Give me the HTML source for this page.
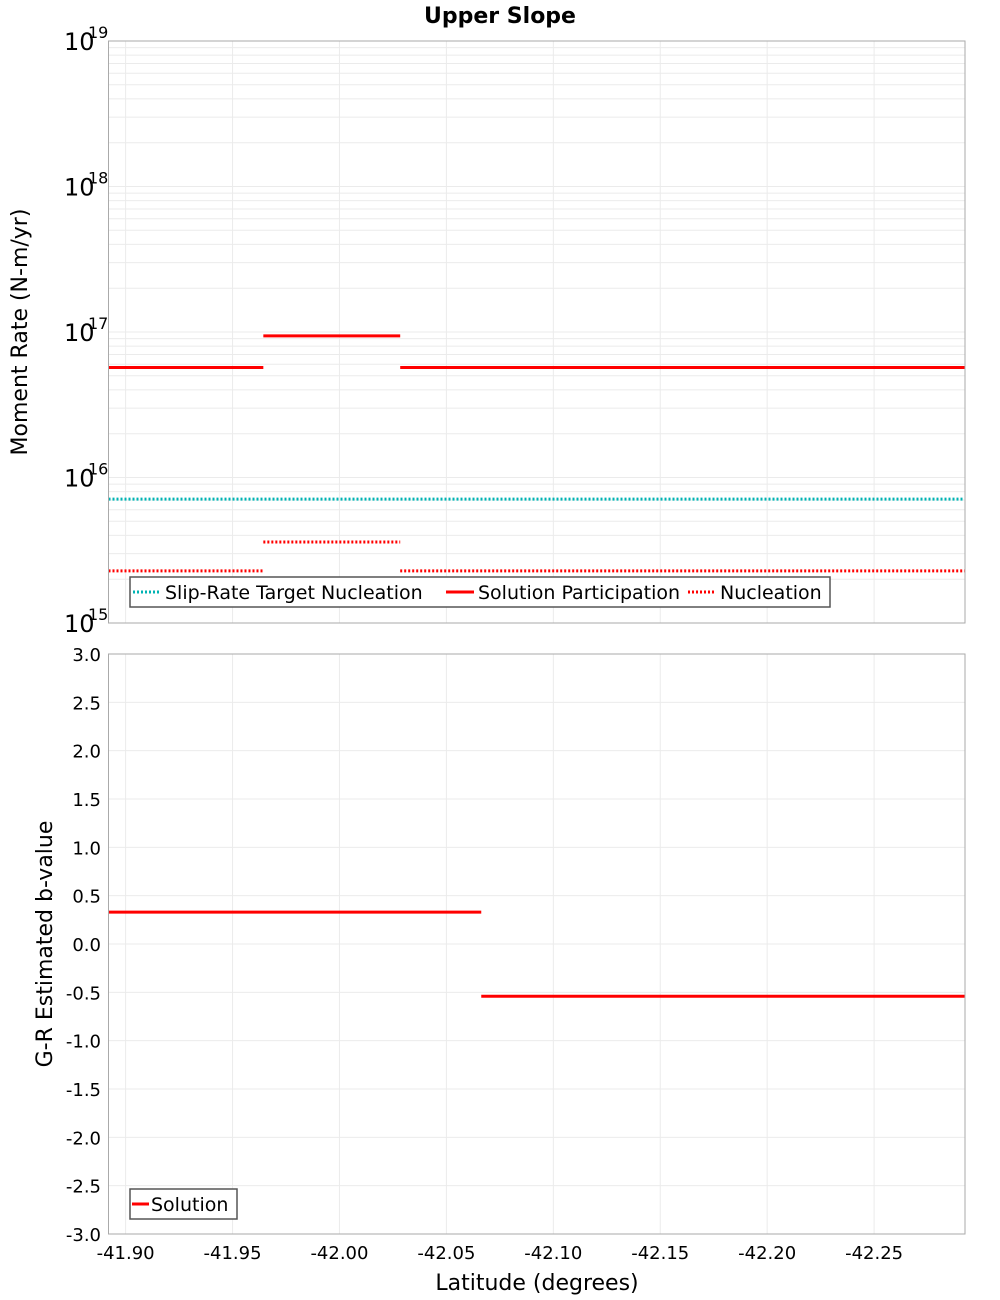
<!DOCTYPE html>
<html><head><meta charset="utf-8"><style>
html,body{margin:0;padding:0;background:#fff;width:1000px;height:1300px;overflow:hidden}
text{font-family:"DejaVu Sans","Liberation Sans",sans-serif}
</style></head><body>
<svg id="chart" width="1000" height="1300" xmlns="http://www.w3.org/2000/svg">
<text x="500" y="23" text-anchor="middle" font-size="22" font-weight="bold">Upper Slope</text>
<g id="topPlot"></g>
<g id="botPlot"></g>
<text x="537" y="1290" text-anchor="middle" font-size="22">Latitude (degrees)</text>
<text transform="translate(27,332) rotate(-90)" text-anchor="middle" font-size="22">Moment Rate (N-m/yr)</text>
<text transform="translate(52,944) rotate(-90)" text-anchor="middle" font-size="22">G-R Estimated b-value</text>
</svg>
<script>
const xTicks=[-41.90,-41.95,-42.00,-42.05,-42.10,-42.15,-42.20,-42.25];
const xLabels=["-41.90","-41.95","-42.00","-42.05","-42.10","-42.15","-42.20","-42.25"];
const partStarts=[-41.892,-41.9644,-42.0284];
const partEnds=[-41.9644,-42.0284,-42.2925];
const partValues=[5.7e16,9.4e16,5.7e16];
const nuclValues=[2.28e15,3.6e15,2.28e15];
const targetValue=7.1e15;
const bStarts=[-41.892,-42.0663];
const bEnds=[-42.0663,-42.2925];
const bValues=[0.33,-0.54];
const bTicks=[3.0,2.5,2.0,1.5,1.0,0.5,0.0,-0.5,-1.0,-1.5,-2.0,-2.5,-3.0];
const logDecades=[15,16,17,18,19];

const NS="http://www.w3.org/2000/svg";
const L=108.5,R=965,T1=41,B1=623,T2=654,B2=1234;
const X0=-41.892,X1=-42.2925;
const xs=v=>L+(v-X0)/(X1-X0)*(R-L);
const ly=v=>B1-(Math.log10(v)-15)/4*(B1-T1);
const by=v=>B2-(v+3)/6*(B2-T2);
function mk(p,tag,a,name){const e=document.createElementNS(NS,tag);for(const k in a)e.setAttribute(k,a[k]);


p.appendChild(e);return e;}
const topG=document.getElementById('topPlot'),botG=document.getElementById('botPlot');
for(const g of [[topG,T1,B1],[botG,T2,B2]]){
 mk(g[0],'rect',{x:L,y:g[1],width:R-L,height:g[2]-g[1],fill:'#fff',stroke:'none'},'plot-background');
 xTicks.forEach(t=>mk(g[0],'line',{x1:xs(t),x2:xs(t),y1:g[1],y2:g[2],stroke:'#ebebeb','stroke-width':1},'x-gridline'));
}
for(let d=15;d<19;d++)for(let m=1;m<10;m++){const y=ly(m*Math.pow(10,d));
 mk(topG,'line',{x1:L,x2:R,y1:y,y2:y,stroke:'#ebebeb','stroke-width':1},'y-gridline');}
bTicks.forEach(t=>mk(botG,'line',{x1:L,x2:R,y1:by(t),y2:by(t),stroke:'#ebebeb','stroke-width':1},'y-gridline'));
logDecades.forEach(d=>{const y=ly(Math.pow(10,d));
 const t=mk(topG,'text',{x:64,y:y+9,'font-size':24},'y-tick-label');t.textContent='10';
 const s=mk(topG,'text',{x:88,y:y-3,'font-size':16},'y-tick-exponent');s.textContent=String(d);});
bTicks.forEach(v=>{const t=mk(botG,'text',{x:101,y:by(v)+7,'font-size':18,'text-anchor':'end'},'y-tick-label');t.textContent=v.toFixed(1);});
xTicks.forEach((v,i)=>{const t=mk(botG,'text',{x:xs(v),y:1259,'font-size':18,'text-anchor':'middle'},'x-tick-label');t.textContent=xLabels[i];});
mk(topG,'line',{x1:xs(X0),x2:xs(X1),y1:ly(targetValue),y2:ly(targetValue),stroke:'#00b3b3','stroke-width':3,'stroke-dasharray':'2,2'},'target-nucleation-line');
partValues.forEach((v,i)=>mk(topG,'line',{x1:xs(partStarts[i]),x2:xs(partEnds[i]),y1:ly(v),y2:ly(v),stroke:'#ff0000','stroke-width':3},'participation-segment'));
nuclValues.forEach((v,i)=>mk(topG,'line',{x1:xs(partStarts[i]),x2:xs(partEnds[i]),y1:ly(v),y2:ly(v),stroke:'#ff0000','stroke-width':3,'stroke-dasharray':'2,2'},'nucleation-segment'));
bValues.forEach((v,i)=>mk(botG,'line',{x1:xs(bStarts[i]),x2:xs(bEnds[i]),y1:by(v),y2:by(v),stroke:'#ff0000','stroke-width':3},'b-value-segment'));
mk(topG,'rect',{x:L,y:T1,width:R-L,height:B1-T1,fill:'none',stroke:'#aaa','stroke-width':1},'plot-border');
mk(botG,'rect',{x:L,y:T2,width:R-L,height:B2-T2,fill:'none',stroke:'#aaa','stroke-width':1},'plot-border');
const lg=mk(topG,'g',{},'legend');
mk(lg,'rect',{x:130,y:577,width:700,height:30,fill:'#fff',stroke:'#555','stroke-width':1.5},'legend-box');
const items=[["Slip-Rate Target Nucleation",'#00b3b3',true,133],["Solution Participation",'#ff0000',false,446],["Nucleation",'#ff0000',true,688]];
items.forEach(it=>{const e=mk(lg,'line',{x1:it[3],x2:it[3]+28,y1:592,y2:592,stroke:it[1],'stroke-width':3},'legend-swatch');
 if(it[2])e.setAttribute('stroke-dasharray','2,2');
 const t=mk(lg,'text',{x:it[3]+32,y:599,'font-size':19},'legend-entry');t.textContent=it[0];});
const lg2=mk(botG,'g',{},'legend');
mk(lg2,'rect',{x:130,y:1189,width:107,height:30,fill:'#fff',stroke:'#555','stroke-width':1.5},'legend-box');
mk(lg2,'line',{x1:132,x2:149,y1:1204,y2:1204,stroke:'#ff0000','stroke-width':3},'legend-swatch');
const t2=mk(lg2,'text',{x:151,y:1211,'font-size':19},'legend-entry');t2.textContent='Solution';
</script>
</body></html>
